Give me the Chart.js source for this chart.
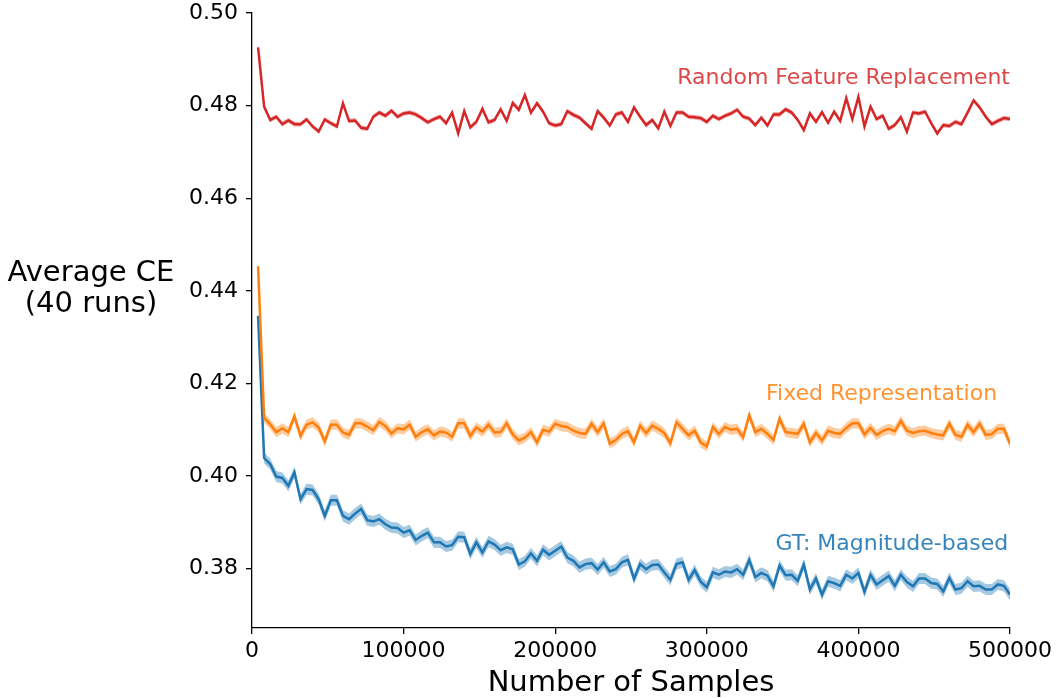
<!DOCTYPE html>
<html>
<head>
<meta charset="utf-8">
<script src="https://cdn.jsdelivr.net/npm/chart.js@4.4.1/dist/chart.umd.min.js"></script>
<style>
  body { margin: 0; background: #fff; }
  #wrap { width: 1058px; height: 698px; }
</style>
</head>
<body>
<div id="wrap"><canvas id="ceChart" width="1058" height="698"></canvas></div>
<script>
// samples seen so far, evaluated every 4000 samples
const sampleStep = 4000;
const samples = Array.from({ length: 125 }, (_, i) => (i + 1) * sampleStep);

const xTicks = [0, 100000, 200000, 300000, 400000, 500000];
const yTicks = [0.38, 0.40, 0.42, 0.44, 0.46, 0.48, 0.50];

const seriesNames = ["Random Feature Replacement", "Fixed Representation", "GT: Magnitude-based"];

const randomReplacement = [
  0.4926, 0.4798, 0.4769, 0.4776, 0.4760, 0.4768, 0.4760, 0.4760, 0.4770, 0.4755,
  0.4744, 0.4770, 0.4762, 0.4755, 0.4805, 0.4767, 0.4768, 0.4752, 0.4750, 0.4776,
  0.4785, 0.4778, 0.4789, 0.4776, 0.4783, 0.4785, 0.4781, 0.4773, 0.4764, 0.4771,
  0.4776, 0.4762, 0.4785, 0.4740, 0.4788, 0.4753, 0.4765, 0.4793, 0.4764, 0.4769,
  0.4792, 0.4767, 0.4806, 0.4791, 0.4823, 0.4785, 0.4805, 0.4787, 0.4762, 0.4757,
  0.4760, 0.4788, 0.4780, 0.4774, 0.4762, 0.4750, 0.4788, 0.4774, 0.4757, 0.4781,
  0.4785, 0.4765, 0.4796, 0.4776, 0.4758, 0.4769, 0.4751, 0.4787, 0.4756, 0.4785,
  0.4785, 0.4776, 0.4775, 0.4773, 0.4765, 0.4778, 0.4771, 0.4778, 0.4783, 0.4791,
  0.4776, 0.4772, 0.4758, 0.4774, 0.4757, 0.4781, 0.4781, 0.4792, 0.4785, 0.4769,
  0.4747, 0.4783, 0.4765, 0.4786, 0.4763, 0.4787, 0.4767, 0.4816, 0.4771, 0.4819,
  0.4755, 0.4798, 0.4771, 0.4778, 0.4750, 0.4758, 0.4775, 0.4744, 0.4785, 0.4783,
  0.4787, 0.4762, 0.4740, 0.4758, 0.4756, 0.4765, 0.4760, 0.4785, 0.4811, 0.4796,
  0.4776, 0.4760, 0.4767, 0.4773, 0.4771
];

const fixedRepresentation = [
  0.4453, 0.4126, 0.4112, 0.4095, 0.4103, 0.4095, 0.4129, 0.4087, 0.4111, 0.4116,
  0.4105, 0.4075, 0.4111, 0.4111, 0.4094, 0.4089, 0.4114, 0.4114, 0.4107, 0.4099,
  0.4117, 0.4108, 0.4092, 0.4103, 0.4101, 0.4111, 0.4085, 0.4095, 0.4101, 0.4088,
  0.4096, 0.4094, 0.4085, 0.4114, 0.4114, 0.4087, 0.4105, 0.4096, 0.4111, 0.4094,
  0.4095, 0.4114, 0.4090, 0.4077, 0.4083, 0.4095, 0.4073, 0.4100, 0.4096, 0.4113,
  0.4108, 0.4106, 0.4098, 0.4093, 0.4091, 0.4113, 0.4095, 0.4114, 0.4070, 0.4078,
  0.4091, 0.4097, 0.4073, 0.4109, 0.4093, 0.4109, 0.4102, 0.4093, 0.4071, 0.4116,
  0.4102, 0.4088, 0.4098, 0.4073, 0.4064, 0.4106, 0.4091, 0.4106, 0.4100, 0.4102,
  0.4084, 0.4131, 0.4095, 0.4102, 0.4091, 0.4078, 0.4124, 0.4095, 0.4093, 0.4091,
  0.4113, 0.4073, 0.4093, 0.4077, 0.4098, 0.4093, 0.4091, 0.4104, 0.4114, 0.4114,
  0.4090, 0.4104, 0.4089, 0.4097, 0.4102, 0.4097, 0.4119, 0.4098, 0.4093, 0.4097,
  0.4098, 0.4093, 0.4090, 0.4088, 0.4113, 0.4089, 0.4085, 0.4111, 0.4095, 0.4113,
  0.4089, 0.4091, 0.4102, 0.4102, 0.4070
];

const magnitudeBased = [
  0.4346, 0.4039, 0.4026, 0.3999, 0.3996, 0.3979, 0.4008, 0.3950, 0.3972, 0.3970,
  0.3950, 0.3914, 0.3948, 0.3948, 0.3914, 0.3907, 0.3919, 0.3929, 0.3905, 0.3902,
  0.3907, 0.3896, 0.3889, 0.3888, 0.3878, 0.3883, 0.3862, 0.3871, 0.3878, 0.3857,
  0.3857, 0.3848, 0.3851, 0.3869, 0.3868, 0.3832, 0.3857, 0.3835, 0.3859, 0.3852,
  0.3840, 0.3846, 0.3842, 0.3809, 0.3816, 0.3833, 0.3817, 0.3841, 0.3830, 0.3839,
  0.3848, 0.3824, 0.3817, 0.3803, 0.3810, 0.3812, 0.3798, 0.3814, 0.3794, 0.3799,
  0.3814, 0.3819, 0.3778, 0.3810, 0.3799, 0.3808, 0.3809, 0.3792, 0.3776, 0.3810,
  0.3814, 0.3776, 0.3797, 0.3772, 0.3760, 0.3792, 0.3787, 0.3794, 0.3792, 0.3799,
  0.3787, 0.3819, 0.3782, 0.3791, 0.3785, 0.3762, 0.3807, 0.3786, 0.3787, 0.3774,
  0.3809, 0.3755, 0.3779, 0.3744, 0.3773, 0.3769, 0.3763, 0.3787, 0.3779, 0.3791,
  0.3750, 0.3787, 0.3766, 0.3775, 0.3784, 0.3763, 0.3787, 0.3771, 0.3762, 0.3779,
  0.3779, 0.3769, 0.3767, 0.3751, 0.3780, 0.3755, 0.3758, 0.3773, 0.3762, 0.3763,
  0.3755, 0.3755, 0.3766, 0.3763, 0.3744
];

// half width of the shaded spread around each mean curve
const randomSpread = 0.0005;
const fixedSpread = 0.0011;
const magnitudeSpread = 0.0012;

const colors = {
  red: "#d62728",
  orange: "#ff7f0e",
  blue: "#1f77b4",
};

function toPoints(values, offset) {
  return values.map((v, i) => ({ x: samples[i], y: v + offset }));
}

// each curve gets two invisible edge datasets (upper fills down to lower)
function bandDatasets(values, spread, fillColor) {
  return [
    {
      data: toPoints(values, spread),
      borderWidth: 0,
      pointRadius: 0,
      backgroundColor: fillColor,
      fill: "+1",
    },
    {
      data: toPoints(values, -spread),
      borderWidth: 0,
      pointRadius: 0,
      fill: false,
    },
  ];
}

function lineDataset(label, values, color) {
  return {
    label: label,
    data: toPoints(values, 0),
    borderColor: color,
    borderWidth: 2.5,
    pointRadius: 0,
    fill: false,
    tension: 0,
  };
}

const curveLabels = {
  id: "curveLabels",
  afterDraw(chart) {
    const ctx = chart.ctx;
    const { x, y } = chart.scales;
    ctx.save();
    ctx.textBaseline = "middle";
    ctx.textAlign = "right";
    ctx.font = "22px 'DejaVu Sans'";

    ctx.fillStyle = "rgba(214,39,40,0.85)";
    ctx.fillText(seriesNames[0], x.getPixelForValue(500000), y.getPixelForValue(0.4860));
    ctx.fillStyle = "rgba(255,127,14,0.85)";
    ctx.fillText(seriesNames[1], x.getPixelForValue(491500), y.getPixelForValue(0.4176));
    ctx.fillStyle = "rgba(31,119,180,0.9)";
    ctx.fillText(seriesNames[2], x.getPixelForValue(498800), y.getPixelForValue(0.3853));

    // axis titles
    ctx.fillStyle = "#000";
    ctx.textAlign = "center";
    ctx.textBaseline = "alphabetic";
    ctx.font = "29px 'DejaVu Sans'";
    ctx.fillText("Average CE", 91, 281);
    ctx.fillText("(40 runs)", 91, 312);

    ctx.fillText("Number of Samples", (chart.chartArea.left + chart.chartArea.right) / 2, 691);
    ctx.restore();
  },
};

const ctx = document.getElementById("ceChart").getContext("2d");
new Chart(ctx, {
  type: "line",
  data: {
    datasets: [
      ...bandDatasets(randomReplacement, randomSpread, "rgba(214,39,40,0.4)"),
      ...bandDatasets(fixedRepresentation, fixedSpread, "rgba(255,127,14,0.4)"),
      ...bandDatasets(magnitudeBased, magnitudeSpread, "rgba(31,119,180,0.4)"),
      lineDataset(seriesNames[0], randomReplacement, colors.red),
      lineDataset(seriesNames[1], fixedRepresentation, colors.orange),
      lineDataset(seriesNames[2], magnitudeBased, colors.blue),
    ],
  },
  options: {
    responsive: false,
    animation: false,
    layout: { padding: { top: 13, right: 48, left: 0, bottom: 0 } },
    plugins: {
      legend: { display: false },
      tooltip: { enabled: false },
      filler: { drawTime: "beforeDatasetsDraw" },
    },
    scales: {
      x: {
        type: "linear",
        min: 0,
        max: 500000,
        afterBuildTicks: (scale) => {
          scale.ticks = xTicks.map((v) => ({ value: v }));
        },
        afterFit: (scale) => {
          scale.height = 70;
          scale.paddingLeft = 0;
          scale.paddingRight = 0;
        },
        grid: {
          drawOnChartArea: false,
          drawTicks: true,
          tickLength: 6,
          color: "#000",
          lineWidth: 1.3,
        },
        border: { display: true, color: "#000", width: 1.3 },
        ticks: {
          color: "#000",
          padding: 4,
          maxRotation: 0,
          font: { family: "'DejaVu Sans'", size: 22 },
          callback: (v) => String(v),
        },
      },
      y: {
        type: "linear",
        min: 0.3672,
        max: 0.5,
        afterBuildTicks: (scale) => {
          scale.ticks = yTicks.map((v) => ({ value: v }));
        },
        afterFit: (scale) => {
          scale.width = 252;
          scale.paddingTop = 0;
          scale.paddingBottom = 0;
        },
        grid: {
          drawOnChartArea: false,
          drawTicks: true,
          tickLength: 6,
          color: "#000",
          lineWidth: 1.3,
        },
        border: { display: true, color: "#000", width: 1.3 },
        ticks: {
          color: "#000",
          padding: 8,
          font: { family: "'DejaVu Sans'", size: 22 },
          callback: (v) => v.toFixed(2),
        },
      },
    },
  },
  plugins: [curveLabels],
});
</script>
</body>
</html>
